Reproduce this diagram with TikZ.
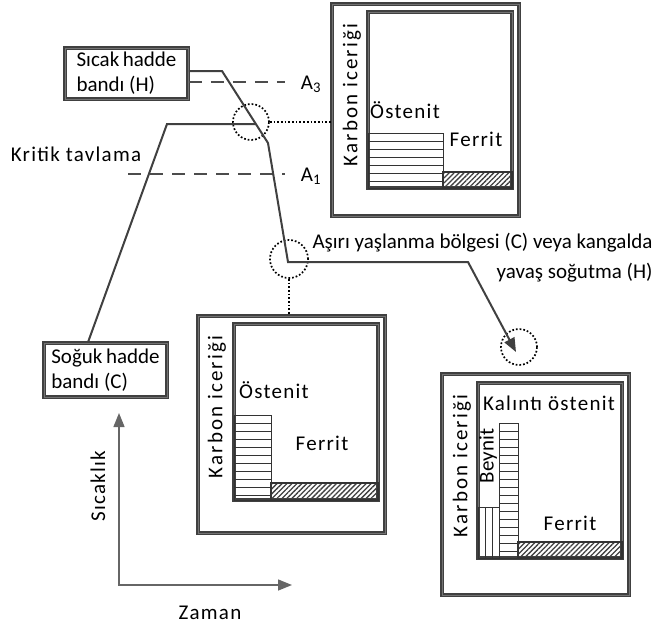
\documentclass[tikz,border=0pt]{standalone}
\usepackage{fontspec}
\setmainfont{Carlito}
\usetikzlibrary{arrows.meta,positioning,patterns.meta}

\begin{document}
\begin{tikzpicture}[x=1pt, y=-1pt,
    font=\fontsize{21}{25}\selectfont,
    spaced/.style={font=\fontsize{21}{25}\selectfont\addfontfeature{LetterSpace=6}},
    wide/.style={font=\fontsize{21}{25}\selectfont\addfontfeature{LetterSpace=10}},
    frame/.style={draw=black!75, line width=1.5pt, double=black!55, double distance=0.8pt},
    plotbox/.style={frame, minimum width=187pt, inner sep=0pt},
    curve/.style={draw=black!75, line width=2pt},
    isoline/.style={draw=black!70, line width=2.4pt, dash pattern=on 13pt off 9pt},
    ring/.style={circle, draw=black, dotted, line width=1.7pt, minimum size=36pt, inner sep=0pt},
    leader/.style={draw=black, dotted, line width=1.7pt},
    rows/.style={draw=black!80, line width=1pt},
    ferrite/.style={draw=black!80, line width=1.2pt, pattern={Lines[angle=45, distance=3.5pt, line width=1.3pt]}, pattern color=black!75},
    axis/.style={draw=black!60, line width=1.4pt},
    >={Triangle[length=14pt, width=11pt]}]
    \useasboundingbox (0,0) rectangle (661,627);

    % 熱延板・冷延板
    \node[frame, minimum width=123pt, minimum height=51pt, inner sep=2pt, align=left] (hot) at (126.5,73.5) {Sıcak\,hadde\\bandı (H)};
    \node[frame, minimum width=123pt, minimum height=54pt, inner sep=2pt, align=left] (cold) at (105.5,370) {Soğuk\,hadde\\bandı (C)};

    % 変態温度
    \node (a3) at (311,84) {A\textsubscript{3}};
    \node (a1) at (311,176) {A\textsubscript{1}};
    \coordinate (a1start) at (128,174);
    \draw[isoline] (hot.east |- 0,82) -- (285,82);
    \draw[isoline] (a1start) -- (285,174);
    \node[spaced] (kritik) at (76,154) {Kritik tavlama};

    % 注目する点
    \node[ring] (ring1) at (251,122) {};
    \node[ring, minimum size=38pt] (ring2) at (289,259) {};
    \node[ring] (ring3) at (519,347) {};

    % 熱処理経路
    \draw[curve] ([xshift=-17.5pt]cold.north) -- (167,124) -- (256,124);
    \draw[curve, ->] ([yshift=2.5pt]hot.east) -- (222,71) -- (268,143) -- (288,262) -- (468,262) -- (516,352);
    \node[align=right, anchor=north east] (asiri) at (656,230) {Aşırı yaşlanma bölgesi (C) veya kangalda\\[5pt]yavaş soğutma (H)};

    % 組織の枠
    \node[plotbox, minimum height=212pt] (plotH) at (425.5,110) {};
    \node[plotbox, minimum height=217pt] (plotC) at (291.5,424.5) {};
    \node[plotbox, minimum height=221pt] (plotS) at (535.5,484.5) {};
    \draw[leader] (ring1.east) -- (ring1.east -| plotH.west);
    \draw[leader] (ring2.south) -- (ring2.south |- plotC.north);

    % 臨界間焼鈍後
    \draw[frame] (368,12) rectangle (512,188);
    \draw[rows] (368,133) rectangle (443,188);
    \foreach \y in {141,149,...,181}
        \draw[rows] (368,\y) -- (443,\y);
    \draw[ferrite] (443,172) rectangle (512,188);
    \node[wide, rotate=90] at (352,95) {Karbon iceriği};
    \node[spaced] at (405,110) {Östenit};
    \node[spaced] at (476,139) {Ferrit};

    % 冷却途中
    \draw[frame] (234,324) rectangle (378,500);
    \draw[rows] (234,415) rectangle (271,500);
    \foreach \y in {423,431,...,495}
        \draw[rows] (234,\y) -- (271,\y);
    \draw[ferrite] (271,483) rectangle (378,500);
    \node[wide, rotate=90] at (217,407) {Karbon iceriği};
    \node[spaced] at (274,390) {Östenit};
    \node[spaced] at (322,443) {Ferrit};

    % 過時効・徐冷後
    \draw[frame] (478,383) rectangle (622,558);
    \draw[rows] (499,423) rectangle (518,558);
    \foreach \y in {431,439,...,551}
        \draw[rows] (499,\y) -- (518,\y);
    \draw[rows] (478,507) rectangle (499,558);
    \foreach \x in {485,492}
        \draw[rows] (\x,507) -- (\x,558);
    \draw[ferrite] (518,542) rectangle (622,558);
    \node[wide, rotate=90] at (462,466) {Karbon iceriği};
    \node[spaced] at (549,403) {Kalıntı östenit};
    \node[rotate=90] at (488,456) {Beynit};
    \node[spaced] at (570,523) {Ferrit};

    % 軸
    \coordinate (origin) at (119,585);
    \coordinate (tempend) at (119,413);
    \coordinate (timeend) at (292,585);
    \draw[axis, <->] (tempend) -- (origin) -- (timeend);
    \node[spaced, rotate=90] at (98,486) {Sıcaklık};
    \node[spaced] at (210,613) {Zaman};
\end{tikzpicture}
\end{document}
